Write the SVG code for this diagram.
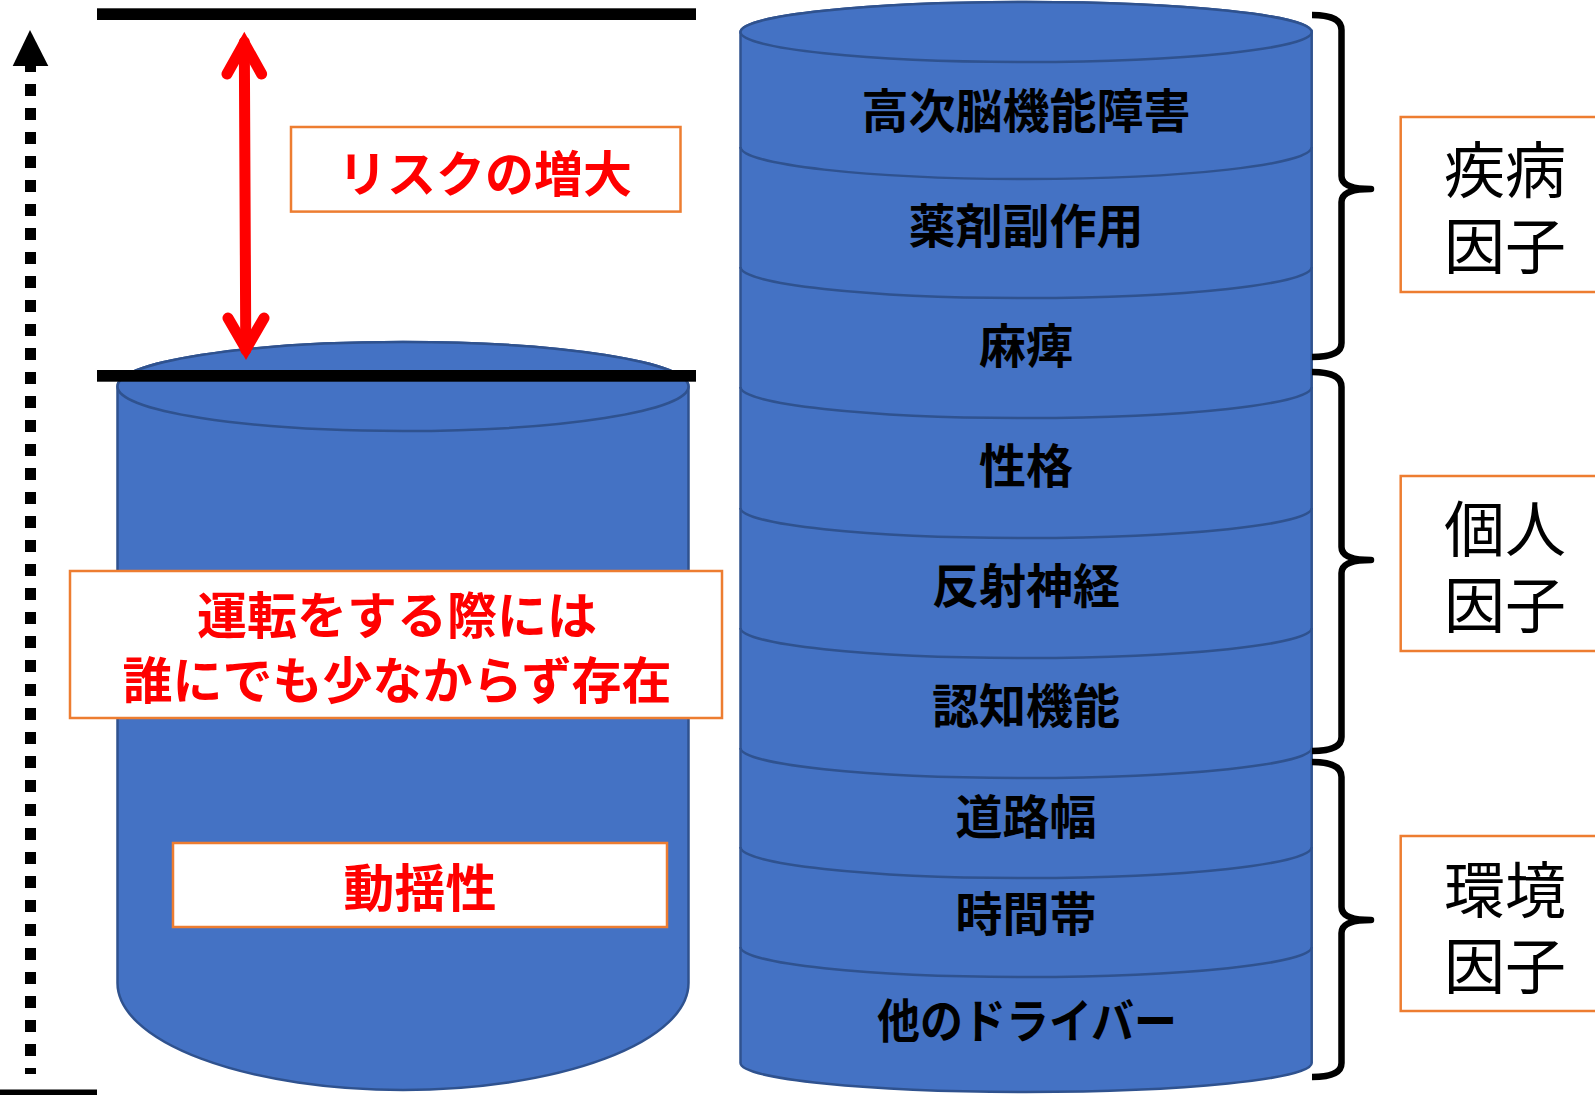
<svg xmlns="http://www.w3.org/2000/svg" width="1595" height="1095" viewBox="0 0 1595 1095">
<defs>
<style>
.cyl{fill:#4472C4;stroke:#2F528F;stroke-width:2.5}
.sep{fill:none;stroke:#2F528F;stroke-width:2.5}
.obox{fill:#FFFFFF;stroke:#ED7D31;stroke-width:2.5}
.lbl{font-family:"Noto Sans CJK JP","Noto Sans CJK SC",sans-serif;font-weight:bold;font-size:47px;fill:#000000;text-anchor:middle;dominant-baseline:central}
.red{font-family:"Noto Sans CJK JP","Noto Sans CJK SC",sans-serif;font-weight:bold;font-size:50px;fill:#FF0000;text-anchor:middle;dominant-baseline:central}
.fac{font-family:"Noto Sans CJK JP","Noto Sans CJK SC",sans-serif;font-weight:normal;font-size:61px;fill:#000000;text-anchor:middle}
.brace{fill:none;stroke:#000000;stroke-width:6.5;stroke-linejoin:round}
.bar{fill:#000000}
.redline{fill:none;stroke:#FF0000;stroke-width:11;stroke-linecap:round;stroke-linejoin:miter}
</style>
</defs>

<g id="left-cylinder">
<path class="cyl" d="M117.5,386.5 L117.5,983 A285.5,107 0 0 0 688.5,983 L688.5,386.5 A285.5,44.5 0 0 0 117.5,386.5 Z"/>
<ellipse class="cyl" cx="403" cy="386.5" rx="285.5" ry="44.5"/>
</g>

<g id="right-cylinder">
<path class="cyl" d="M740.5,32 L740.5,1063 A285.6,29 0 0 0 1311.7,1063 L1311.7,32 A285.6,30 0 0 0 740.5,32 Z"/>
<ellipse class="cyl" cx="1026.1" cy="32" rx="285.6" ry="30"/>
<path class="sep" d="M740.5,147 A285.6,32 0 0 0 1311.7,147"/>
<path class="sep" d="M740.5,267 A285.6,31 0 0 0 1311.7,267"/>
<path class="sep" d="M740.5,387 A285.6,31 0 0 0 1311.7,387"/>
<path class="sep" d="M740.5,508 A285.6,30 0 0 0 1311.7,508"/>
<path class="sep" d="M740.5,628 A285.6,30 0 0 0 1311.7,628"/>
<path class="sep" d="M740.5,748 A285.6,30 0 0 0 1311.7,748"/>
<path class="sep" d="M740.5,847 A285.6,31 0 0 0 1311.7,847"/>
<path class="sep" d="M740.5,947 A285.6,30 0 0 0 1311.7,947"/>
</g>

<g id="layer-labels">
<text class="lbl" x="1026" y="107">高次脳機能障害</text>
<text class="lbl" x="1026" y="222">薬剤副作用</text>
<text class="lbl" x="1026" y="342">麻痺</text>
<text class="lbl" x="1026" y="462">性格</text>
<text class="lbl" x="1026" y="582">反射神経</text>
<text class="lbl" x="1026" y="702">認知機能</text>
<text class="lbl" x="1026" y="813">道路幅</text>
<text class="lbl" x="1026" y="910">時間帯</text>
<text class="lbl" x="1027" y="1017" textLength="300" lengthAdjust="spacingAndGlyphs">他のドライバー</text>
</g>

<g id="level-lines">
<rect class="bar" x="97" y="8.3" width="599" height="11.7"/>
<rect class="bar" x="97" y="370" width="599" height="11.7"/>
<rect class="bar" x="0" y="1089.5" width="97" height="6"/>
</g>

<g id="risk-label">
<rect class="obox" x="291" y="127" width="389.5" height="84.6"/>
<text class="red" x="485" y="170" style="font-size:49px">リスクの増大</text>
</g>

<g id="everyone-label">
<rect class="obox" x="70" y="571" width="652" height="147"/>
<text class="red" x="397" y="612">運転をする際には</text>
<text class="red" x="397" y="677">誰にでも少なからず存在</text>
</g>

<g id="sway-label">
<rect class="obox" x="173" y="843" width="494" height="84"/>
<text class="red" x="420" y="885" style="font-size:51px">動揺性</text>
</g>

<g id="disease-factor">
<rect class="obox" x="1400.7" y="117" width="220" height="175"/>
<text class="fac" x="1505" y="193">疾病<tspan x="1505" dy="76">因子</tspan></text>
</g>

<g id="personal-factor">
<rect class="obox" x="1400.7" y="476" width="220" height="175"/>
<text class="fac" x="1505" y="552">個人<tspan x="1505" dy="76">因子</tspan></text>
</g>

<g id="environment-factor">
<rect class="obox" x="1400.7" y="836" width="220" height="175"/>
<text class="fac" x="1505" y="913">環境<tspan x="1505" dy="76">因子</tspan></text>
</g>

<g id="connectors">
<line x1="30.5" y1="60" x2="30.5" y2="1074" stroke="#000000" stroke-width="11" stroke-dasharray="12 12"/>
<polygon points="30,30 12.7,66 48.3,66" fill="#000000"/>
<line class="redline" x1="244.3" y1="42" x2="245.8" y2="350"/>
<polyline class="redline" points="227,74 244.3,43 261.6,74"/>
<polyline class="redline" points="228,318 246,349 264,318"/>
<path class="brace" d="M1312,15 Q1341.5,15 1341.5,30 L1341.5,176 Q1341.5,189 1371,189 Q1341.5,189 1341.5,202 L1341.5,343 Q1341.5,357 1312,357"/>
<path class="brace" d="M1312,372 Q1341.5,372 1341.5,387 L1341.5,547 Q1341.5,560 1371,560 Q1341.5,560 1341.5,573 L1341.5,737 Q1341.5,751 1312,751"/>
<path class="brace" d="M1312,762 Q1341.5,762 1341.5,777 L1341.5,907 Q1341.5,920 1371,920 Q1341.5,920 1341.5,933 L1341.5,1063 Q1341.5,1077 1312,1077"/>
</g>
</svg>
